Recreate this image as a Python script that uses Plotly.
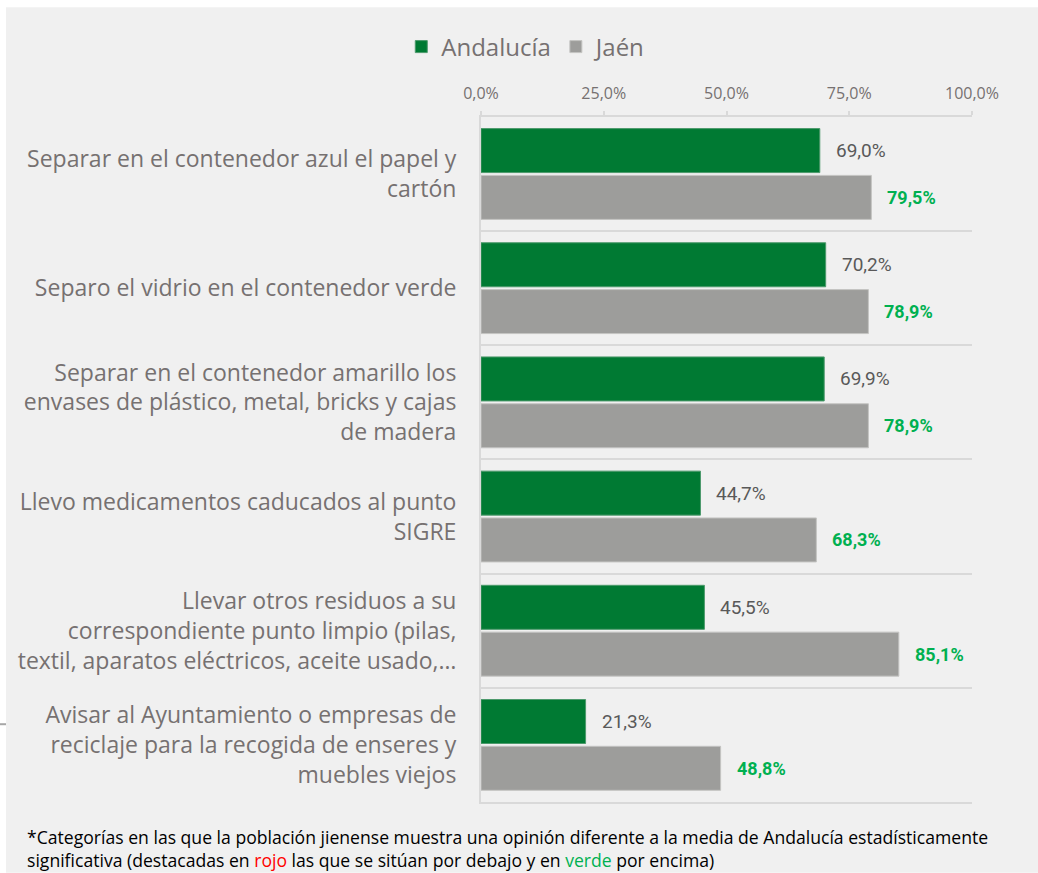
import plotly.graph_objects as go

# Survey categories (top to bottom)
categories = [
    "Separar en el contenedor azul el papel y<br>cartón",
    "Separo el vidrio en el contenedor verde",
    "Separar en el contenedor amarillo los<br>envases de plástico, metal, bricks y cajas<br>de madera",
    "Llevo medicamentos caducados al punto<br>SIGRE",
    "Llevar otros residuos a su<br>correspondiente punto limpio (pilas,<br>textil, aparatos eléctricos, aceite usado,…",
    "Avisar al Ayuntamiento o empresas de<br>reciclaje para la recogida de enseres y<br>muebles viejos",
]
andalucia = [69.0, 70.2, 69.9, 44.7, 45.5, 21.3]
jaen = [79.5, 78.9, 78.9, 68.3, 85.1, 48.8]

tick_vals = [0, 25, 50, 75, 100]
tick_text = ["0,0%", "25,0%", "50,0%", "75,0%", "100,0%"]

GREEN = "#007a33"
GREY = "#9d9d9b"
LABEL_GREY = "#767171"
VALUE_GREY = "#595959"
SIG_GREEN = "#00b050"
FONT = "Open Sans"
NUM_FONT = "Roboto"

positions = list(range(len(categories)))


def fmt(v):
    return f"{v:.1f}".replace(".", ",") + "%"


fig = go.Figure()
fig.add_trace(go.Bar(
    name="Andalucía", y=positions, x=andalucia, orientation="h",
    marker=dict(color=GREEN, line=dict(color="#4d9a6c", width=1)),
))
fig.add_trace(go.Bar(
    name="Jaén", y=positions, x=jaen, orientation="h",
    marker=dict(color=GREY, line=dict(color="#c4c4c2", width=1)),
))

bargap = 0.18
slot = (1 - bargap) / 2
annotations = []
for k, (a, j) in enumerate(zip(andalucia, jaen)):
    annotations.append(dict(
        x=a, y=k - slot / 2, xref="x", yref="y", text=fmt(a),
        showarrow=False, xanchor="left", xshift=14,
        font=dict(family=NUM_FONT, size=19, color=VALUE_GREY),
    ))
    annotations.append(dict(
        x=j, y=k + slot / 2, xref="x", yref="y", text="<b>" + fmt(j) + "</b>",
        showarrow=False, xanchor="left", xshift=14,
        font=dict(family=NUM_FONT, size=18, color=SIG_GREEN),
    ))

# Footnote
annotations.append(dict(
    x=(25 - 481) / 491, y=(802 - 823) / 687, xref="paper", yref="paper",
    xanchor="left", yanchor="top", align="left", showarrow=False,
    text=("*Categorías en las que la población jienense muestra una opinión diferente a la media de Andalucía estadísticamente<br>"
          "significativa (destacadas en <span style='color:#ff0000'>rojo</span> las que se sitúan por debajo y en "
          "<span style='color:#00b050'>verde</span> por encima)"),
    font=dict(family=FONT, size=17.6, color="#000000"),
))

shapes = [
    # light panel behind the chart
    dict(type="rect", xref="paper", yref="paper", layer="below",
         x0=(6 - 481) / 491, x1=(1038 - 481) / 491,
         y0=(802 - 873) / 687, y1=(802 - 5) / 687,
         fillcolor="#f0f0f0", line=dict(width=0)),
    dict(type="line", xref="paper", yref="paper", layer="above",
         x0=-481 / 491, x1=(6 - 481) / 491,
         y0=(802 - 724) / 687, y1=(802 - 724) / 687,
         line=dict(color="#a6a6a6", width=2)),
]

fig.update_layout(
    width=1038, height=873,
    margin=dict(l=481, r=66, t=115, b=71),
    paper_bgcolor="#ffffff", plot_bgcolor="rgba(0,0,0,0)",
    barmode="group", bargap=bargap, bargroupgap=0.06,
    font=dict(family=FONT, color=LABEL_GREY),
    showlegend=True,
    legend=dict(
        orientation="h", xref="container", yref="container",
        x=0.507, y=1 - 47 / 873, xanchor="center", yanchor="middle",
        font=dict(family=FONT, size=24, color=LABEL_GREY),
        bgcolor="rgba(0,0,0,0)",
    ),
    xaxis=dict(
        side="top", range=[0, 100], tickvals=tick_vals, ticktext=tick_text,
        showgrid=False, zeroline=False,
        showline=True, linecolor="#d9d9d9", linewidth=2, mirror=True,
        ticks="outside", ticklen=4, tickcolor="#d9d9d9", tickwidth=2,
        ticklabelstandoff=6,
        tickfont=dict(family=FONT, size=16, color=LABEL_GREY),
    ),
    yaxis=dict(
        range=[len(categories) - 0.5, -0.5], tickvals=positions, ticktext=categories,
        showgrid=False, zeroline=False,
        showline=True, linecolor="#d9d9d9", linewidth=2,
        ticks="", ticklabelstandoff=18,
        tickfont=dict(family=FONT, size=23, color=LABEL_GREY),
        minor=dict(tick0=-0.5, dtick=1, showgrid=True, gridcolor="#d9d9d9", gridwidth=2),
    ),
    annotations=annotations,
    shapes=shapes,
)

fig.write_html("out.html")
